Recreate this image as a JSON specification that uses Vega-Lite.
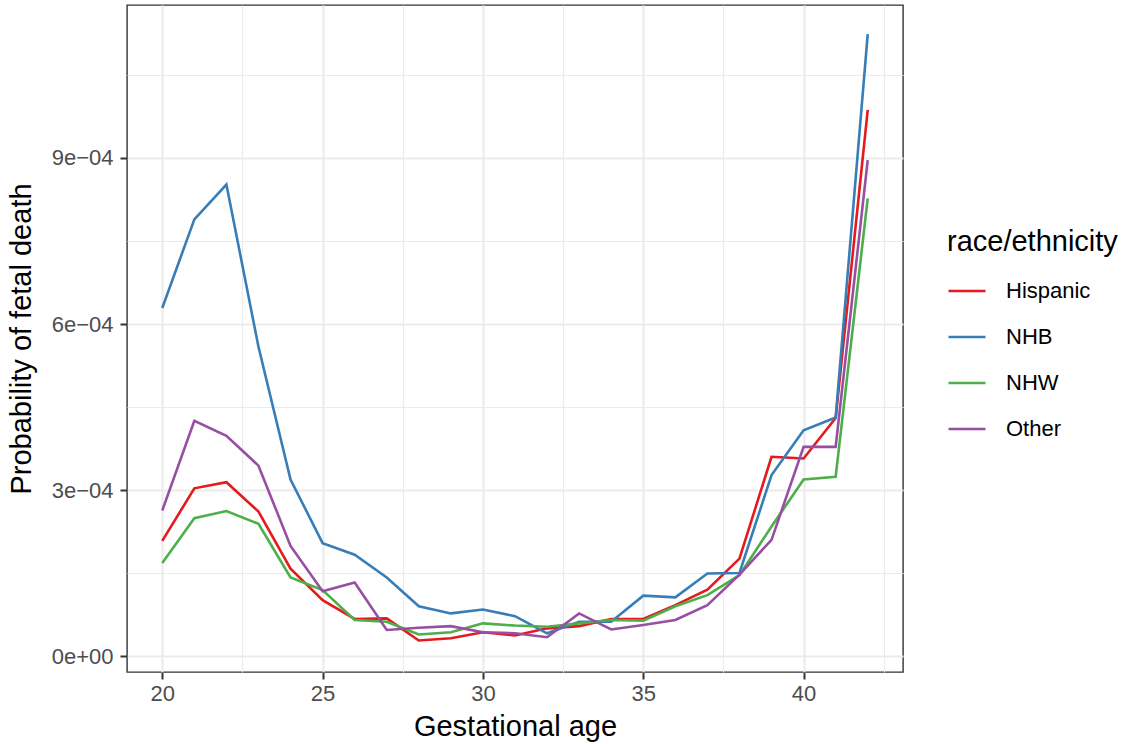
{
  "$schema": "https://vega.github.io/schema/vega-lite/v6.json",
  "width": 776,
  "height": 667,
  "autosize": {"type": "none"},
  "padding": {"left": 127, "top": 5, "right": 222, "bottom": 72},
  "background": "white",
  "config": {
    "font": "Liberation Sans",
    "view": {"stroke": "#333333", "strokeWidth": 1.4}
  },
  "data": {
    "values": [
      {"age": 20, "race": "Hispanic", "p": 0.000208},
      {"age": 21, "race": "Hispanic", "p": 0.000303},
      {"age": 22, "race": "Hispanic", "p": 0.000314},
      {"age": 23, "race": "Hispanic", "p": 0.000261},
      {"age": 24, "race": "Hispanic", "p": 0.000158},
      {"age": 25, "race": "Hispanic", "p": 0.000101},
      {"age": 26, "race": "Hispanic", "p": 0.000067},
      {"age": 27, "race": "Hispanic", "p": 0.000068},
      {"age": 28, "race": "Hispanic", "p": 0.000028},
      {"age": 29, "race": "Hispanic", "p": 0.000032},
      {"age": 30, "race": "Hispanic", "p": 0.000043},
      {"age": 31, "race": "Hispanic", "p": 0.000037},
      {"age": 32, "race": "Hispanic", "p": 0.000050},
      {"age": 33, "race": "Hispanic", "p": 0.000054},
      {"age": 34, "race": "Hispanic", "p": 0.000067},
      {"age": 35, "race": "Hispanic", "p": 0.000067},
      {"age": 36, "race": "Hispanic", "p": 0.000092},
      {"age": 37, "race": "Hispanic", "p": 0.000120},
      {"age": 38, "race": "Hispanic", "p": 0.000176},
      {"age": 39, "race": "Hispanic", "p": 0.000360},
      {"age": 40, "race": "Hispanic", "p": 0.000357},
      {"age": 41, "race": "Hispanic", "p": 0.000430},
      {"age": 42, "race": "Hispanic", "p": 0.000987},
      {"age": 20, "race": "NHB", "p": 0.000629},
      {"age": 21, "race": "NHB", "p": 0.000789},
      {"age": 22, "race": "NHB", "p": 0.000852},
      {"age": 23, "race": "NHB", "p": 0.000559},
      {"age": 24, "race": "NHB", "p": 0.000319},
      {"age": 25, "race": "NHB", "p": 0.000204},
      {"age": 26, "race": "NHB", "p": 0.000183},
      {"age": 27, "race": "NHB", "p": 0.000142},
      {"age": 28, "race": "NHB", "p": 0.000090},
      {"age": 29, "race": "NHB", "p": 0.000077},
      {"age": 30, "race": "NHB", "p": 0.000084},
      {"age": 31, "race": "NHB", "p": 0.000072},
      {"age": 32, "race": "NHB", "p": 0.000041},
      {"age": 33, "race": "NHB", "p": 0.000062},
      {"age": 34, "race": "NHB", "p": 0.000062},
      {"age": 35, "race": "NHB", "p": 0.000109},
      {"age": 36, "race": "NHB", "p": 0.000106},
      {"age": 37, "race": "NHB", "p": 0.000149},
      {"age": 38, "race": "NHB", "p": 0.000150},
      {"age": 39, "race": "NHB", "p": 0.000327},
      {"age": 40, "race": "NHB", "p": 0.000408},
      {"age": 41, "race": "NHB", "p": 0.000431},
      {"age": 42, "race": "NHB", "p": 0.001124},
      {"age": 20, "race": "NHW", "p": 0.000168},
      {"age": 21, "race": "NHW", "p": 0.000249},
      {"age": 22, "race": "NHW", "p": 0.000262},
      {"age": 23, "race": "NHW", "p": 0.000239},
      {"age": 24, "race": "NHW", "p": 0.000142},
      {"age": 25, "race": "NHW", "p": 0.000119},
      {"age": 26, "race": "NHW", "p": 0.000065},
      {"age": 27, "race": "NHW", "p": 0.000062},
      {"age": 28, "race": "NHW", "p": 0.000039},
      {"age": 29, "race": "NHW", "p": 0.000043},
      {"age": 30, "race": "NHW", "p": 0.000059},
      {"age": 31, "race": "NHW", "p": 0.000055},
      {"age": 32, "race": "NHW", "p": 0.000053},
      {"age": 33, "race": "NHW", "p": 0.000059},
      {"age": 34, "race": "NHW", "p": 0.000065},
      {"age": 35, "race": "NHW", "p": 0.000064},
      {"age": 36, "race": "NHW", "p": 0.000090},
      {"age": 37, "race": "NHW", "p": 0.000110},
      {"age": 38, "race": "NHW", "p": 0.000146},
      {"age": 39, "race": "NHW", "p": 0.000234},
      {"age": 40, "race": "NHW", "p": 0.000319},
      {"age": 41, "race": "NHW", "p": 0.000324},
      {"age": 42, "race": "NHW", "p": 0.000827},
      {"age": 20, "race": "Other", "p": 0.000263},
      {"age": 21, "race": "Other", "p": 0.000425},
      {"age": 22, "race": "Other", "p": 0.000398},
      {"age": 23, "race": "Other", "p": 0.000344},
      {"age": 24, "race": "Other", "p": 0.000199},
      {"age": 25, "race": "Other", "p": 0.000117},
      {"age": 26, "race": "Other", "p": 0.000133},
      {"age": 27, "race": "Other", "p": 0.000047},
      {"age": 28, "race": "Other", "p": 0.000051},
      {"age": 29, "race": "Other", "p": 0.000054},
      {"age": 30, "race": "Other", "p": 0.000043},
      {"age": 31, "race": "Other", "p": 0.000041},
      {"age": 32, "race": "Other", "p": 0.000034},
      {"age": 33, "race": "Other", "p": 0.000077},
      {"age": 34, "race": "Other", "p": 0.000048},
      {"age": 35, "race": "Other", "p": 0.000056},
      {"age": 36, "race": "Other", "p": 0.000065},
      {"age": 37, "race": "Other", "p": 0.000092},
      {"age": 38, "race": "Other", "p": 0.000147},
      {"age": 39, "race": "Other", "p": 0.000210},
      {"age": 40, "race": "Other", "p": 0.000378},
      {"age": 41, "race": "Other", "p": 0.000378},
      {"age": 42, "race": "Other", "p": 0.000896}
    ]
  },
  "mark": {"type": "line", "strokeWidth": 2.6, "clip": true},
  "encoding": {
    "x": {
      "field": "age",
      "type": "quantitative",
      "title": "Gestational age",
      "scale": {"domain": [18.9, 43.1], "nice": false, "zero": false},
      "axis": {
        "values": [20, 22.5, 25, 27.5, 30, 32.5, 35, 37.5, 40, 42.5],
        "labelExpr": "datum.value % 5 === 0 ? '' + datum.value : ''",
        "domain": false,
        "grid": true,
        "gridColor": "#EBEBEB",
        "gridWidth": {"condition": {"test": "datum.value % 5 === 0", "value": 2.2}, "value": 1.1},
        "tickOpacity": {"condition": {"test": "datum.value % 5 === 0", "value": 1}, "value": 0},
        "tickColor": "#333333",
        "tickWidth": 2,
        "tickSize": 7,
        "labelFontSize": 22,
        "labelColor": "#4D4D4D",
        "labelPadding": 4,
        "labelFlush": false,
        "titleFontSize": 29,
        "titleFontWeight": "normal",
        "titleColor": "#000000",
        "titlePadding": 8
      }
    },
    "y": {
      "field": "p",
      "type": "quantitative",
      "title": "Probability of fetal death",
      "scale": {"domain": [-0.0000289, 0.0011765], "nice": false, "zero": false},
      "axis": {
        "values": [0, 0.00015, 0.0003, 0.00045, 0.0006, 0.00075, 0.0009, 0.00105],
        "labelExpr": "['0e+00','','3e−04','','6e−04','','9e−04',''][round(datum.value*20000/3)]",
        "domain": false,
        "grid": true,
        "gridColor": "#EBEBEB",
        "gridWidth": {"condition": {"test": "round(datum.value*20000/3) % 2 === 0", "value": 2.2}, "value": 1.1},
        "tickOpacity": {"condition": {"test": "round(datum.value*20000/3) % 2 === 0", "value": 1}, "value": 0},
        "tickColor": "#333333",
        "tickWidth": 2,
        "tickSize": 7,
        "labelFontSize": 22,
        "labelColor": "#4D4D4D",
        "labelPadding": 7,
        "labelFlush": false,
        "titleFontSize": 29,
        "titleFontWeight": "normal",
        "titleColor": "#000000",
        "titlePadding": 15
      }
    },
    "color": {
      "field": "race",
      "type": "nominal",
      "scale": {
        "domain": ["Hispanic", "NHB", "NHW", "Other"],
        "range": ["#E41A1C", "#377EB8", "#4DAF4A", "#984EA3"]
      },
      "legend": {
        "title": "race/ethnicity",
        "orient": "none",
        "legendX": 820,
        "legendY": 223,
        "titleFontSize": 29,
        "titleFontWeight": "normal",
        "titleColor": "#000000",
        "titlePadding": 14,
        "labelFontSize": 22,
        "labelColor": "#000000",
        "labelOffset": 19,
        "symbolType": "stroke",
        "symbolSize": 1369,
        "symbolStrokeWidth": 2.6,
        "rowPadding": 15
      }
    }
  }
}
